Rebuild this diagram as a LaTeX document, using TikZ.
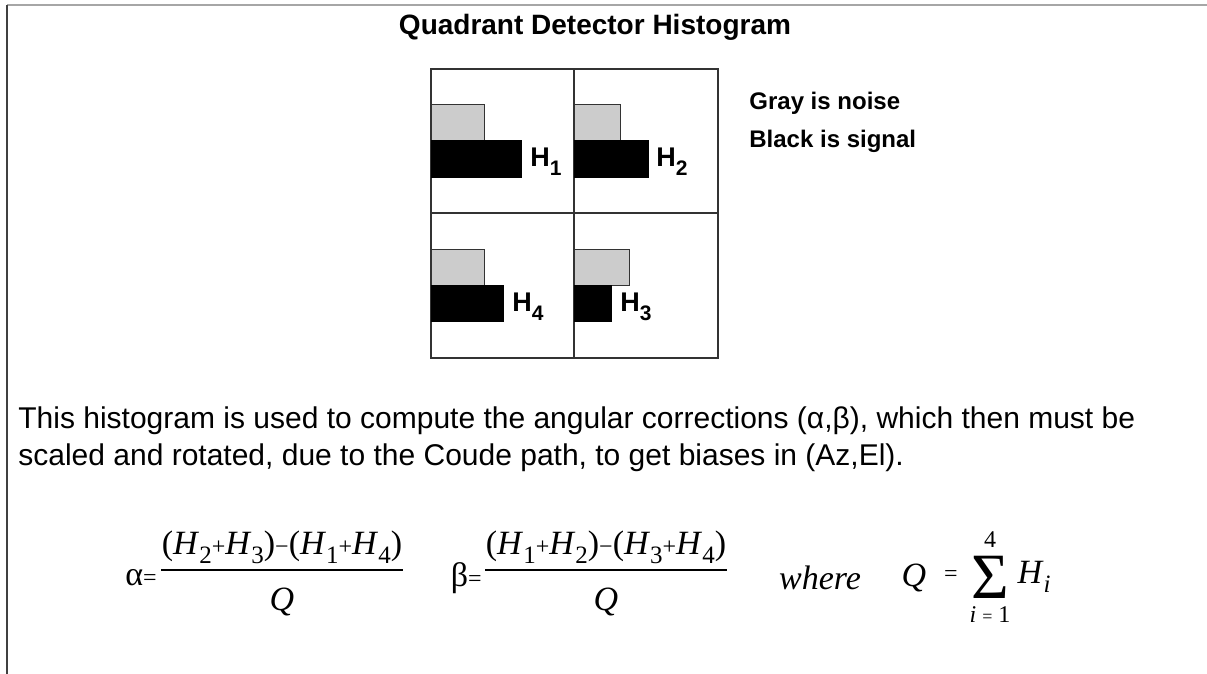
\documentclass[tikz,border=0pt]{standalone}
\usepackage{fontspec}
\setmainfont{Liberation Sans}
\newfontfamily\timesfont{Liberation Serif}
\usetikzlibrary{positioning}

% subscripted H, in the histogram and in the formulas
\newcommand{\Hbox}[1]{H\raisebox{-4.5pt}{\fontsize{10.5}{10.5}\selectfont #1}}
\newcommand{\Hf}[1]{\textit{H}\raisebox{-4.5pt}{\fontsize{12.5}{12.5}\selectfont #1}}
\newcommand{\pl}{{\fontsize{12}{12}\selectfont +}}
\newcommand{\mn}{{\fontsize{12}{12}\selectfont −}}
\newcommand{\eqs}{{\fontsize{12}{12}\selectfont =}}

\begin{document}
\begin{tikzpicture}[
    x=0.5pt, y=-0.5pt,
    frame/.style={draw=black!80, line width=0.6pt},
    noisebar/.style={draw=black!80, line width=0.4pt, fill=black!20},
    signalbar/.style={fill=black},
    title/.style={font=\fontsize{14}{16}\selectfont\bfseries, inner sep=0pt},
    legend/.style={font=\fontsize{12}{14}\selectfont\bfseries, inner sep=0pt, anchor=west},
    hlabel/.style={font=\fontsize{13.5}{15}\selectfont\bfseries, inner sep=0pt, anchor=west},
    body/.style={font=\fontsize{15}{18.5}\selectfont, inner sep=0pt, align=left, anchor=north west},
    eq/.style={font=\timesfont\fontsize{17}{20}\selectfont, inner sep=0pt},
    small/.style={font=\timesfont\fontsize{12}{14}\selectfont, inner sep=0pt},
    fracbar/.style={line width=0.6pt}
]
\useasboundingbox (0,0) rectangle (1207,674);
\draw[black!35, line width=0.6pt] (7,5) -- (1207,5);
\draw[black!75, line width=1pt] (7,5) -- (7,674);

\node[title] (title) at (595,27) {Quadrant Detector Histogram};

% the four quadrants
\draw[frame] (431,69) rectangle (718,358);
\draw[frame] (574,69) -- (574,358);
\draw[frame] (431,213) -- (718,213);

\draw[noisebar] (431,104) rectangle (484,140);
\draw[signalbar] (431,140) rectangle (521,177);
\node[hlabel] (h1) at (530,162) {\Hbox{1}};
\draw[noisebar] (574,104) rectangle (620,140);
\draw[signalbar] (574,140) rectangle (648,177);
\node[hlabel] (h2) at (656,162) {\Hbox{2}};
\draw[noisebar] (431,249) rectangle (484,285);
\draw[signalbar] (431,285) rectangle (503,321);
\node[hlabel] (h4) at (512,307) {\Hbox{4}};
\draw[noisebar] (574,249) rectangle (629,285);
\draw[signalbar] (574,285) rectangle (611,321);
\node[hlabel] (h3) at (620,307) {\Hbox{3}};

\node[legend] (noise) at (749,103) {Gray is noise};
\node[legend] (signal) at (749,141) {Black is signal};

\node[body] (desc) at (18,406) {This histogram is used to compute the angular corrections (α,β), which then must be\\scaled and rotated, due to the Coude path, to get biases in (Az,El).};

% alpha
\node[eq, anchor=east] (alpha) at (157,578) {α\eqs};
\node[eq, anchor=south] (numa) at (282,564) {(\Hf{2}\pl\Hf{3})\mn(\Hf{1}\pl\Hf{4})};
\draw[fracbar] ([yshift=-3pt]numa.south west) -- ([yshift=-3pt]numa.south east);
\node[eq, below=12pt of numa] (dena) {\textit{Q}};

% beta
\node[eq, anchor=east] (beta) at (482,578) {β\eqs};
\node[eq, anchor=south] (numb) at (606,564) {(\Hf{1}\pl\Hf{2})\mn(\Hf{3}\pl\Hf{4})};
\draw[fracbar] ([yshift=-3pt]numb.south west) -- ([yshift=-3pt]numb.south east);
\node[eq, below=12pt of numb] (denb) {\textit{Q}};

% sum
\node[eq] (where) at (820,578) {\textit{where}};
\node[eq] (q) at (914,578) {\textit{Q}};
\node[small] (eqsign) at (951,576) {=};
\node[eq] (sigma) at (990,577) {\scalebox{1.9}{Σ}};
\node[small, above=4pt of sigma] (top) {4};
\node[small, below=4pt of sigma] (bot) {\textit{i}\kern3pt{\fontsize{9}{9}\selectfont =}\kern3pt 1};
\node[eq, right=4pt of sigma] (hi) {\Hf{\textit{i}}};
\end{tikzpicture}
\end{document}
